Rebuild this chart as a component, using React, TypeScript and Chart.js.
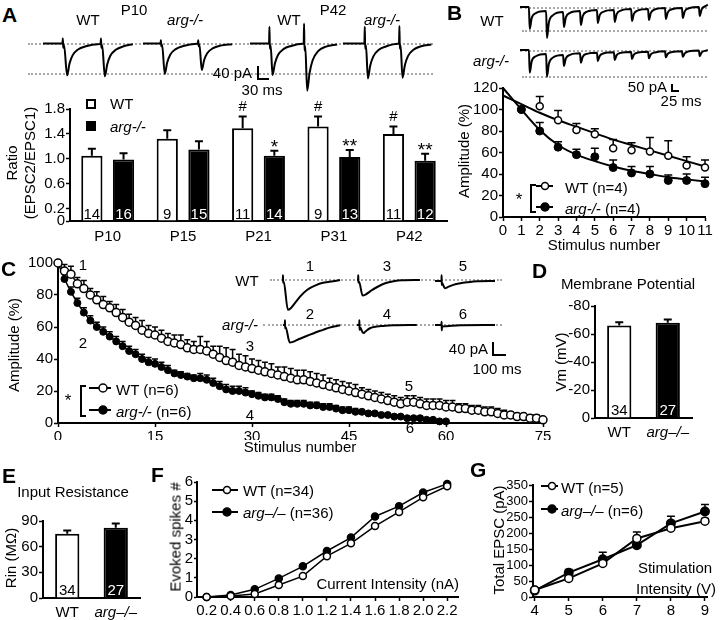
import React, { useEffect, useRef } from "react";
import { Chart, registerables } from "chart.js";
Chart.register(...registerables);

const FONT = "'Liberation Sans', Arial, Helvetica, sans-serif";
Chart.defaults.font.family = FONT;
Chart.defaults.color = "#000";

// ---------------- DATA ----------------
// Panel A: paired-pulse ratio
const ageGroups = ["P10", "P15", "P21", "P31", "P42"];
const ratioWT = [1.05, 1.32, 1.49, 1.52, 1.4];
const ratioWTErr = [0.11, 0.14, 0.19, 0.16, 0.12];
const ratioKO = [0.99, 1.15, 1.05, 1.03, 0.97];
const ratioKOErr = [0.1, 0.13, 0.08, 0.11, 0.11];
const ratioWTn = [14, 9, 11, 9, 11];
const ratioKOn = [16, 15, 14, 13, 12];
const ratioWTMarks = ["", "", "#", "#", "#"];
const ratioKOMarks = ["", "", "*", "**", "**"];
const ratioTicks = [0, 0.2, 0.6, 1.0, 1.4, 1.8];

// Panel A traces: [ms, pA]
const traceA_WT10 = [[0,0],[50,0],[51,14],[52,-12],[54,-4],[62,-91],[68,-58],[76,-34],[90,-17],[110,-8],[140,-2],[148,-1],[149,14],[150,-12],[152,-4],[159,-94],[165,-60],[173,-35],[187,-18],[207,-8],[231,-2]];
const traceA_KO10 = [[0,0],[45,0],[46,9],[47,-8],[49,-3],[56,-87],[62,-55],[70,-32],[84,-16],[104,-7],[138,-1],[141,0],[142,9],[143,-8],[145,-3],[151,-76],[157,-48],[165,-28],[179,-14],[199,-6],[229,-2]];
const traceA_WT42 = [[0,0],[49,0],[50,48],[51,-15],[53,-5],[58,-90],[64,-57],[72,-33],[86,-16],[106,-7],[135,-1],[138,0],[139,57],[140,-20],[142,-8],[147,-135],[153,-85],[161,-48],[175,-22],[195,-9],[224,-3]];
const traceA_KO42 = [[0,0],[55,0],[56,48],[57,-15],[59,-5],[64,-100],[70,-63],[78,-37],[92,-18],[112,-8],[141,-1],[144,0],[145,50],[146,-15],[148,-5],[153,-98],[159,-62],[167,-36],[181,-18],[201,-8],[227,-3]];

// Panel B
const bTicks = [0, 1, 2, 3, 4, 5, 6, 7, 8, 9, 10, 11];
const bStim = [1, 2, 3, 4, 5, 6, 7, 8, 9, 10, 11];
const bWT = [100, 103, 90, 81, 77, 64, 62, 61, 57, 48, 46];
const bWTErr = [0, 9, 9, 6, 5, 8, 7, 13, 14, 8, 7];
const bKO = [100, 80, 65, 58, 56, 46, 41, 40, 34, 34, 31];
const bKOErr = [0, 8, 5, 5, 8, 7, 6, 7, 5, 6, 6];
const bFitX = [0, 1, 2, 3, 4, 5, 6, 7, 8, 9, 10, 11];
const bWTFit = [113, 105, 97, 90, 84, 78, 72, 67, 62, 57, 52, 47];
const bKOFit = [120, 100, 81, 67, 58, 52, 47, 43, 40, 37, 35, 33];
const bYTicks = [0, 20, 40, 60, 80, 100, 120];
const traceB_WT = [[0,0],[32,0],[35,-154],[42,-78],[57,-43],[94,-28],[97,-217],[104,-108],[119,-57],[155,-35],[158,-140],[165,-73],[180,-41],[216,-28],[219,-126],[226,-63],[241,-33],[277,-21],[280,-112],[287,-57],[302,-32],[338,-21],[341,-105],[348,-50],[363,-25],[400,-14],[403,-98],[410,-48],[425,-24],[461,-14],[464,-91],[471,-41],[486,-17],[522,-7],[525,-84],[532,-38],[547,-16],[583,-7],[586,-77],[593,-31],[608,-9],[644,0],[647,-63],[654,-17],[669,8],[676,16]];
const traceB_KO = [[0,0],[32,0],[35,-159],[42,-80],[57,-44],[94,-28],[97,-187],[104,-96],[119,-53],[155,-35],[158,-112],[165,-59],[180,-34],[216,-23],[219,-89],[226,-47],[241,-27],[277,-19],[280,-77],[287,-41],[302,-23],[338,-16],[341,-70],[348,-36],[363,-20],[400,-14],[403,-63],[410,-33],[425,-18],[461,-12],[464,-58],[471,-30],[486,-17],[522,-9],[525,-51],[532,-26],[547,-14],[583,-9],[586,-47],[593,-24],[608,-9],[644,-4],[647,-42],[654,-17],[669,-4],[676,0]];

// Panel C (stimulus index = array index)
const cWT = [100,95,93,87,84,80,77,74,72,69,66,63,61,58,56,55,53,51,50,49,47,46,46,45,43,41,39,38,36,35,34,33,32,31,30,29,28,27,27,26,25,24,23,22,21,20,19,18,17,16,15,14,13,12,13,13,12,11,11,11,10,10,9,9,8,8,7,7,6,5,5,4,4,3,3,2];
const cWTErr = [0,4,5,4,5,4,5,5,4,5,5,5,5,6,5,5,5,5,5,6,5,5,8,6,5,7,8,8,7,7,6,6,6,6,5,6,6,6,6,6,6,6,5,5,5,5,5,4,4,4,4,4,4,4,4,4,4,4,4,4,4,4,3,3,3,3,3,3,3,3,2,2,2,2,2,1];
const cKO = [100,90,82,75,69,64,60,57,54,51,48,45,43,40,38,37,35,33,31,30,29,28,28,27,25,23,21,20,20,19,18,17,16,16,15,13,12,12,12,11,11,10,10,9,8,8,7,7,6,6,5,5,4,4,3,3,3,2,2,1,1];
const cKOErr = [0,3,3,3,3,3,3,3,3,3,3,3,3,3,3,3,3,3,2,2,2,2,3,3,3,3,3,3,3,3,2,2,2,2,2,2,2,2,2,2,2,2,2,2,2,2,2,1,1,1,1,1,1,1,1,1,1,1,1,1,1];
const cXTicks = [0, 15, 30, 45, 60, 75];
const cYTicks = [0, 20, 40, 60, 80, 100];
const traceC1 = [[0,0],[6,0],[7,15],[8,-8],[12,-5],[42,-92],[60,-88],[90,-72],[128,-51],[180,-30],[246,-15],[300,-8],[362,-4],[412,0]];
const traceC3 = [[0,0],[8,0],[9,15],[10,-8],[14,-5],[40,-48],[60,-45],[100,-33],[150,-20],[200,-10],[260,-4],[320,-1],[447,0]];
const traceC5 = [[0,0],[46,0],[47,18],[48,-12],[50,-6],[70,-22],[90,-19],[130,-12],[180,-7],[230,-4],[300,-1],[426,0]];
const traceC2 = [[0,0],[13,0],[14,15],[15,-10],[18,-6],[48,-54],[70,-52],[110,-44],[168,-34],[230,-23],[284,-15],[330,-8],[381,-3],[405,-1]];
const traceC4 = [[0,0],[16,0],[17,15],[18,-15],[22,-8],[44,-25],[60,-20],[92,-10],[140,-5],[185,-3],[260,-1],[424,0]];
const traceC6 = [[0,0],[46,0],[47,10],[48,-16],[50,-5],[70,-4],[120,-2],[200,-1],[426,0]];

// Panel D
const genotypes = ["WT", "arg\u2013/\u2013"];
const vm = [-66, -68];
const vmErr = [2.4, 2.3];
const vmN = [34, 27];
const vmTicks = [-80, -60, -40, -20, 0];

// Panel E
const rin = [75, 82];
const rinErr = [4, 5];
const rinN = [34, 27];
const rinTicks = [0, 30, 60, 90];

// Panel F
const fCurrent = [0.2, 0.4, 0.6, 0.8, 1.0, 1.2, 1.4, 1.6, 1.8, 2.0, 2.2];
const fWT = [0, 0.05, 0.16, 0.63, 1.09, 2.13, 2.8, 3.7, 4.44, 5.2, 5.78];
const fKO = [0, 0.1, 0.4, 0.97, 1.6, 2.4, 3.1, 4.2, 4.74, 5.45, 5.9];
const fYTicks = [0, 1, 2, 3, 4, 5, 6];

// Panel G
const gVolt = [4, 5, 6, 7, 8, 9];
const gWT = [22, 58, 105, 183, 215, 237];
const gWTErr = [3, 5, 6, 20, 8, 8];
const gKO = [20, 76, 118, 162, 230, 267];
const gKOErr = [5, 10, 22, 6, 22, 22];
const gYTicks = [0, 50, 100, 150, 200, 250, 300, 350];

// ---------------- HELPERS ----------------
type Box = { l: number; t: number; r: number; b: number };

const errorBars = {
  id: "errorBars",
  beforeDatasetsDraw(chart: any) {
    const ctx = chart.ctx;
    chart.data.datasets.forEach((ds: any, di: number) => {
      if (!ds.errors) return;
      const meta = chart.getDatasetMeta(di);
      const ys = chart.scales[meta.yAxisID];
      ctx.save();
      ctx.strokeStyle = "#000";
      ctx.lineWidth = ds.errWidth || 1.5;
      meta.data.forEach((el: any, i: number) => {
        const e = ds.errors[i];
        if (!e) return;
        const raw = ds.data[i];
        const v = typeof raw === "number" ? raw : raw.y;
        const tip = v + (v < 0 ? -e : e);
        const y1 = ys.getPixelForValue(tip);
        const cap = ds.capHalf || 3.5;
        ctx.beginPath();
        ctx.moveTo(el.x, el.y);
        ctx.lineTo(el.x, y1);
        ctx.moveTo(el.x - cap, y1);
        ctx.lineTo(el.x + cap, y1);
        ctx.stroke();
      });
      ctx.restore();
    });
  },
};

const barText = {
  id: "barText",
  afterDatasetsDraw(chart: any) {
    const ctx = chart.ctx;
    chart.data.datasets.forEach((ds: any, di: number) => {
      const meta = chart.getDatasetMeta(di);
      const ys = chart.scales[meta.yAxisID];
      meta.data.forEach((el: any, i: number) => {
        ctx.save();
        ctx.textAlign = "center";
        if (ds.counts) {
          ctx.fillStyle = ds.countColor;
          ctx.font = `15px ${FONT}`;
          ctx.textBaseline = "alphabetic";
          ctx.fillText(String(ds.counts[i]), el.x, el.base - 2);
        }
        if (ds.marks && ds.marks[i]) {
          const v = ds.data[i];
          const tip = v + (ds.errors ? ds.errors[i] : 0);
          const isHash = ds.marks[i].includes("#");
          ctx.fillStyle = "#000";
          ctx.font = `${isHash ? 15 : 19}px ${FONT}`;
          ctx.textBaseline = "alphabetic";
          ctx.fillText(ds.marks[i], el.x, ys.getPixelForValue(tip) - (isHash ? 5 : -2));
        }
        ctx.restore();
      });
    });
  },
};

function countPlugin(counts: number[]) {
  return {
    id: "counts",
    afterDatasetsDraw(chart: any) {
      const ctx = chart.ctx;
      const meta = chart.getDatasetMeta(0);
      meta.data.forEach((el: any, i: number) => {
        ctx.save();
        ctx.fillStyle = i === 0 ? "#000" : "#fff";
        ctx.font = `15px ${FONT}`;
        ctx.textAlign = "center";
        ctx.fillText(String(counts[i]), el.x, el.base - 3);
        ctx.restore();
      });
    },
  };
}

function baseOpts(canvas: Box, plot: Box) {
  return {
    responsive: false,
    animation: false,
    devicePixelRatio: 1,
    events: [],
    layout: {
      autoPadding: false,
      padding: { left: 0, top: plot.t - canvas.t, right: canvas.r - plot.r, bottom: 0 },
    },
    plugins: { legend: { display: false }, tooltip: { enabled: false }, title: { display: false } },
  };
}

const AXB = { display: true, color: "#000", width: 2 };

function linAxis(kind: "x" | "y", canvas: Box, plot: Box, min: number, max: number, ticks: number[], fmt?: (v: number) => string, extra: any = {}, tickFont: any = { size: 15 }) {
  return {
    type: "linear",
    min,
    max,
    afterBuildTicks: (s: any) => {
      s.ticks = ticks.map((v) => ({ value: v }));
    },
    afterFit: (s: any) => {
      if (kind === "y") s.width = plot.l - canvas.l;
      else s.height = canvas.b - plot.b;
    },
    grid: { drawOnChartArea: false, drawTicks: true, tickLength: 4, tickColor: "#000", tickWidth: 1.5 },
    border: AXB,
    ticks: {
      autoSkip: false,
      maxRotation: 0,
      padding: 1,
      color: "#000",
      font: tickFont,
      callback: fmt || ((v: number) => String(v)),
    },
    ...extra,
  };
}

function catAxis(canvas: Box, plot: Box, italicIdx = -1, padding = 7) {
  return {
    type: "category",
    afterFit: (s: any) => {
      s.height = canvas.b - plot.b;
    },
    grid: { drawOnChartArea: false, drawTicks: false },
    border: AXB,
    ticks: {
      padding,
      color: "#000",
      autoSkip: false,
      maxRotation: 0,
      font: (ctx: any) => ({ size: 15, style: ctx.index === italicIdx ? "italic" : "normal", family: FONT }),
    },
  };
}

function ChartCanvas({ box, make }: { box: Box; make: () => any }) {
  const ref = useRef<HTMLCanvasElement>(null);
  useEffect(() => {
    const c = new Chart(ref.current as HTMLCanvasElement, make());
    return () => c.destroy();
  }, []);
  const w = box.r - box.l;
  const h = box.b - box.t;
  return (
    <canvas
      ref={ref}
      width={w}
      height={h}
      style={{ position: "absolute", left: box.l, top: box.t, width: w, height: h }}
    />
  );
}

function Trace({ pts, x0, y0, msPx, pAPx, box, lw = 2 }: any) {
  const make = () => ({
    type: "line",
    data: {
      datasets: [
        {
          data: pts.map(([t, v]: number[]) => ({ x: t, y: v })),
          borderColor: "#000",
          borderWidth: lw,
          pointRadius: 0,
          cubicInterpolationMode: "monotone",
          fill: false,
          clip: false,
        },
      ],
    },
    options: {
      responsive: false,
      animation: false,
      devicePixelRatio: 1,
      events: [],
      layout: { autoPadding: false, padding: 0 },
      plugins: { legend: { display: false }, tooltip: { enabled: false } },
      scales: {
        x: { type: "linear", display: false, min: (box.l - x0) * msPx, max: (box.r - x0) * msPx },
        y: { type: "linear", display: false, min: -(box.b - y0) * pAPx, max: (y0 - box.t) * pAPx },
      },
    },
  });
  return <ChartCanvas box={box} make={make} />;
}

function Txt({ x, y, s = 15, a = "c", b = false, i = false, rot = false, color = "#000", children }: any) {
  const tx = a === "l" ? "0" : a === "r" ? "-100%" : "-50%";
  return (
    <div
      style={{
        position: "absolute",
        left: x,
        top: y,
        transform: `translate(${tx},-50%)${rot ? " rotate(-90deg)" : ""}`,
        fontSize: s,
        fontWeight: b ? "bold" : "normal",
        fontStyle: i ? "italic" : "normal",
        whiteSpace: "nowrap",
        lineHeight: 1,
        color,
        zIndex: 2,
      }}
    >
      {children}
    </div>
  );
}

function Dots({ x1, x2, y }: any) {
  return <div style={{ position: "absolute", left: x1, top: y - 1, width: x2 - x1, borderTop: "2px dotted #a8a8a8" }} />;
}

function ScaleBar({ x, y, w, h }: any) {
  return (
    <>
      <div style={{ position: "absolute", left: x, top: y, width: 2, height: h, background: "#000" }} />
      <div style={{ position: "absolute", left: x, top: y + h - 2, width: w, height: 2, background: "#000" }} />
    </>
  );
}

function Marker({ x, y, w, filled, r = 4, cx }: any) {
  return (
    <svg style={{ position: "absolute", left: x, top: y - 6 }} width={w} height={12}>
      <line x1={0} y1={6} x2={w} y2={6} stroke="#000" strokeWidth={2} />
      <circle cx={cx ?? w * 0.6} cy={6} r={r} fill={filled ? "#000" : "#fff"} stroke="#000" strokeWidth={1.5} />
    </svg>
  );
}

function Bracket({ x, y1, y2 }: any) {
  return (
    <div
      style={{
        position: "absolute",
        left: x,
        top: y1,
        width: 4,
        height: y2 - y1,
        borderLeft: "2px solid #000",
        borderTop: "2px solid #000",
        borderBottom: "2px solid #000",
      }}
    />
  );
}

// ---------------- LAYOUT BOXES ----------------
const boxA: Box = { l: 36, t: 95, r: 452, b: 250 };
const plotA: Box = { l: 70, t: 109, r: 447, b: 221 };
const boxB: Box = { l: 470, t: 78, r: 715, b: 240 };
const plotB: Box = { l: 503, t: 85, r: 705, b: 217 };
const boxC: Box = { l: 20, t: 250, r: 560, b: 440 };
const plotC: Box = { l: 58, t: 263, r: 543, b: 423 };
const boxD: Box = { l: 565, t: 295, r: 700, b: 445 };
const plotD: Box = { l: 595, t: 306, r: 692, b: 418 };
const boxE: Box = { l: 12, t: 510, r: 150, b: 620 };
const plotE: Box = { l: 43, t: 521, r: 140, b: 598 };
const boxF: Box = { l: 178, t: 470, r: 465, b: 620 };
const plotF: Box = { l: 197, t: 482, r: 458, b: 597 };
const boxG: Box = { l: 503, t: 475, r: 715, b: 620 };
const plotG: Box = { l: 533, t: 485, r: 707, b: 597 };

// ---------------- CHART CONFIGS ----------------
const makeA = () => ({
  type: "bar",
  data: {
    labels: ageGroups,
    datasets: [
      { data: ratioWT, backgroundColor: "#fff", borderColor: "#000", borderWidth: 2, barPercentage: 0.67, categoryPercentage: 0.84, errors: ratioWTErr, capHalf: 4, errWidth: 2, counts: ratioWTn, countColor: "#000", marks: ratioWTMarks },
      { data: ratioKO, backgroundColor: "#000", borderColor: "#000", borderWidth: 2, barPercentage: 0.67, categoryPercentage: 0.84, errors: ratioKOErr, capHalf: 4, errWidth: 2, counts: ratioKOn, countColor: "#fff", marks: ratioKOMarks },
    ],
  },
  options: {
    ...baseOpts(boxA, plotA),
    scales: {
      x: catAxis(boxA, plotA, -1, 7),
      y: linAxis("y", boxA, plotA, 0, 1.8, ratioTicks, (v) => (v === 0 ? "0" : v.toFixed(1))),
    },
  },
  plugins: [errorBars, barText],
});

const makeB = () => ({
  type: "line",
  data: {
    datasets: [
      { data: bStim.map((s, i) => ({ x: s, y: bKO[i] })), showLine: false, pointRadius: 4, pointBackgroundColor: "#000", pointBorderColor: "#000", pointBorderWidth: 1, errors: bKOErr, capHalf: 4, clip: false },
      { data: bStim.map((s, i) => ({ x: s, y: bWT[i] })), showLine: false, pointRadius: 3.5, pointBackgroundColor: "#fff", pointBorderColor: "#000", pointBorderWidth: 1.5, errors: bWTErr, capHalf: 4, clip: false },
      { data: bFitX.map((s, i) => ({ x: s, y: bWTFit[i] })), borderColor: "#000", borderWidth: 2, pointRadius: 0, cubicInterpolationMode: "monotone", clip: false },
      { data: bFitX.map((s, i) => ({ x: s, y: bKOFit[i] })), borderColor: "#000", borderWidth: 2, pointRadius: 0, cubicInterpolationMode: "monotone", clip: false },
    ],
  },
  options: {
    ...baseOpts(boxB, plotB),
    scales: {
      x: linAxis("x", boxB, plotB, 0, 11, bTicks),
      y: linAxis("y", boxB, plotB, 0, 120, bYTicks),
    },
  },
  plugins: [errorBars],
});

const makeC = () => ({
  type: "line",
  data: {
    datasets: [
      { data: cWT.map((v, i) => ({ x: i, y: v })), borderColor: "#000", borderWidth: 1.5, pointRadius: 4, pointBackgroundColor: "#fff", pointBorderColor: "#000", pointBorderWidth: 1.5, errors: cWTErr, capHalf: 3, clip: false },
      { data: cKO.map((v, i) => ({ x: i, y: v })), borderColor: "#000", borderWidth: 1.5, pointRadius: 3.5, pointBackgroundColor: "#000", pointBorderColor: "#000", pointBorderWidth: 1, errors: cKOErr, capHalf: 3, clip: false },
    ],
  },
  options: {
    ...baseOpts(boxC, plotC),
    scales: {
      x: linAxis("x", boxC, plotC, 0, 75, cXTicks),
      y: linAxis("y", boxC, plotC, 0, 100, cYTicks),
    },
  },
  plugins: [errorBars],
});

const makeD = () => ({
  type: "bar",
  data: {
    labels: genotypes,
    datasets: [
      { data: vm, backgroundColor: ["#fff", "#000"], borderColor: "#000", borderWidth: 2, barPercentage: 0.5, categoryPercentage: 1, errors: vmErr, capHalf: 4, errWidth: 2 },
    ],
  },
  options: {
    ...baseOpts(boxD, plotD),
    scales: {
      x: catAxis(boxD, plotD, 1, 6),
      y: linAxis("y", boxD, plotD, -80, 0, vmTicks, undefined, { reverse: true }),
    },
  },
  plugins: [errorBars, countPlugin(vmN)],
});

const makeE = () => ({
  type: "bar",
  data: {
    labels: genotypes,
    datasets: [
      { data: rin, backgroundColor: ["#fff", "#000"], borderColor: "#000", borderWidth: 2, barPercentage: 0.5, categoryPercentage: 1, errors: rinErr, capHalf: 4, errWidth: 2 },
    ],
  },
  options: {
    ...baseOpts(boxE, plotE),
    scales: {
      x: catAxis(boxE, plotE, 1, 6),
      y: linAxis("y", boxE, plotE, 0, 90, rinTicks),
    },
  },
  plugins: [errorBars, countPlugin(rinN)],
});

const makeF = () => ({
  type: "line",
  data: {
    datasets: [
      { data: fCurrent.map((c, i) => ({ x: c, y: fWT[i] })), borderColor: "#000", borderWidth: 1.5, pointRadius: 3.5, pointBackgroundColor: "#fff", pointBorderColor: "#000", pointBorderWidth: 1.5, clip: false },
      { data: fCurrent.map((c, i) => ({ x: c, y: fKO[i] })), borderColor: "#000", borderWidth: 1.5, pointRadius: 3.5, pointBackgroundColor: "#000", pointBorderColor: "#000", clip: false },
    ],
  },
  options: {
    ...baseOpts(boxF, plotF),
    scales: {
      x: linAxis("x", boxF, plotF, 0.12, 2.29, fCurrent, (v) => v.toFixed(1)),
      y: linAxis("y", boxF, plotF, 0, 6, fYTicks, undefined, { grid: { drawOnChartArea: false, drawTicks: true, tickLength: 3, tickColor: "#000", tickWidth: 1.5 } }),
    },
  },
});

const makeG = () => ({
  type: "line",
  data: {
    datasets: [
      { data: gVolt.map((c, i) => ({ x: c, y: gWT[i] })), borderColor: "#000", borderWidth: 2, pointRadius: 4, pointBackgroundColor: "#fff", pointBorderColor: "#000", pointBorderWidth: 1.5, errors: gWTErr, capHalf: 4, clip: false },
      { data: gVolt.map((c, i) => ({ x: c, y: gKO[i] })), borderColor: "#000", borderWidth: 2, pointRadius: 4, pointBackgroundColor: "#000", pointBorderColor: "#000", errors: gKOErr, capHalf: 4, clip: false },
    ],
  },
  options: {
    ...baseOpts(boxG, plotG),
    scales: {
      x: linAxis("x", boxG, plotG, 3.95, 9.06, gVolt),
      y: linAxis("y", boxG, plotG, 0, 350, gYTicks, undefined, {}, { size: 13 }),
    },
  },
  plugins: [errorBars],
});

// ---------------- APP ----------------
function It({ children }: any) {
  return <span style={{ fontStyle: "italic" }}>{children}</span>;
}

export default function App() {
  return (
    <div
      style={{
        position: "absolute",
        left: 0,
        top: 0,
        width: 720,
        height: 620,
        background: "#fff",
        overflow: "hidden",
        fontFamily: FONT,
        color: "#000",
      }}
    >
      {/* ---------- Panel A ---------- */}
      <Txt x={2} y={14} s={21} b a="l">A</Txt>
      <Txt x={88} y={19}>WT</Txt>
      <Txt x={134} y={9}>P10</Txt>
      <Txt x={185} y={19} i>arg-/-</Txt>
      <Txt x={289} y={19}>WT</Txt>
      <Txt x={333} y={9}>P42</Txt>
      <Txt x={382} y={19} i>arg-/-</Txt>
      <Dots x1={28} x2={433} y={44} />
      <Dots x1={28} x2={433} y={74} />
      <Trace pts={traceA_WT10} x0={43} y0={43.5} msPx={2.57} pAPx={2.86} box={{ l: 40, t: 18, r: 138, b: 100 }} />
      <Trace pts={traceA_KO10} x0={143} y0={43.5} msPx={2.57} pAPx={2.86} box={{ l: 140, t: 18, r: 236, b: 100 }} />
      <Trace pts={traceA_WT42} x0={250} y0={43.5} msPx={2.57} pAPx={2.86} box={{ l: 246, t: 18, r: 342, b: 100 }} />
      <Trace pts={traceA_KO42} x0={343} y0={43.5} msPx={2.57} pAPx={2.86} box={{ l: 340, t: 18, r: 436, b: 100 }} />
      <ScaleBar x={257} y={66} w={12} h={14} />
      <Txt x={252} y={72} a="r">40 pA</Txt>
      <Txt x={262} y={89}>30 ms</Txt>

      <ChartCanvas box={boxA} make={makeA} />
      <div style={{ position: "absolute", left: 86, top: 99, width: 6, height: 6, border: "2px solid #000", background: "#fff" }} />
      <Txt x={110} y={103} a="l">WT</Txt>
      <div style={{ position: "absolute", left: 86, top: 121, width: 10, height: 10, background: "#000" }} />
      <Txt x={110} y={126} a="l" i>arg-/-</Txt>
      <Txt x={10.5} y={163} rot>Ratio</Txt>
      <Txt x={28.5} y={163} rot>(EPSC2/EPSC1)</Txt>

      {/* ---------- Panel B ---------- */}
      <Txt x={447} y={12} s={21} b a="l">B</Txt>
      <Txt x={492} y={20}>WT</Txt>
      <Txt x={491} y={60} i>arg-/-</Txt>
      <Dots x1={520} x2={707} y={8} />
      <Dots x1={522} x2={707} y={31} />
      <Dots x1={520} x2={707} y={51} />
      <Dots x1={522} x2={707} y={77} />
      <Trace pts={traceB_WT} x0={520} y0={7} msPx={3.6} pAPx={7} box={{ l: 515, t: 0, r: 712, b: 44 }} />
      <Trace pts={traceB_KO} x0={520} y0={50} msPx={3.6} pAPx={7} box={{ l: 515, t: 40, r: 712, b: 84 }} />
      <ScaleBar x={671} y={84} w={8} h={8} />
      <Txt x={667} y={86} a="r">50 pA</Txt>
      <Txt x={681} y={100}>25 ms</Txt>

      <ChartCanvas box={boxB} make={makeB} />
      <Txt x={462.5} y={151} rot>Amplitude (%)</Txt>
      <Txt x={604} y={244}>Stimulus number</Txt>
      <Txt x={519} y={199} s={17}>*</Txt>
      <Bracket x={530} y1={184} y2={209} />
      <Marker x={536} y={186} w={17} filled={false} r={3.5} cx={9} />
      <Txt x={565} y={187} a="l">WT (n=4)</Txt>
      <Marker x={536} y={207} w={17} filled r={4} cx={9} />
      <Txt x={565} y={208} a="l"><It>arg-/-</It> (n=4)</Txt>

      {/* ---------- Panel C ---------- */}
      <Txt x={1} y={268} s={21} b a="l">C</Txt>
      <ChartCanvas box={boxC} make={makeC} />
      <Txt x={12.5} y={345} rot>Amplitude (%)</Txt>
      <Txt x={300} y={446}>Stimulus number</Txt>
      <Txt x={83} y={264}>1</Txt>
      <Txt x={83} y={342}>2</Txt>
      <Txt x={250} y={345}>3</Txt>
      <Txt x={250} y={414}>4</Txt>
      <Txt x={409} y={385}>5</Txt>
      <Txt x={410} y={427}>6</Txt>
      <Txt x={68} y={400} s={17}>*</Txt>
      <Bracket x={80} y1={385} y2={413} />
      <Marker x={89} y={388} w={22} filled={false} r={4} cx={14} />
      <Txt x={116} y={389} a="l">WT (n=6)</Txt>
      <Marker x={89} y={410} w={22} filled r={4} cx={14} />
      <Txt x={116} y={411} a="l"><It>arg-/-</It> (n=6)</Txt>

      <Txt x={247} y={280}>WT</Txt>
      <Txt x={240} y={324} i>arg-/-</Txt>
      <Txt x={310} y={265}>1</Txt>
      <Txt x={387} y={265}>3</Txt>
      <Txt x={463} y={265}>5</Txt>
      <Txt x={310} y={313}>2</Txt>
      <Txt x={387} y={313}>4</Txt>
      <Txt x={463} y={313}>6</Txt>
      <Dots x1={270} x2={502} y={280} />
      <Dots x1={263} x2={502} y={325} />
      <Trace pts={traceC1} x0={282} y0={280} msPx={7.1} pAPx={3.08} box={{ l: 278, t: 266, r: 345, b: 318 }} />
      <Trace pts={traceC3} x0={357} y0={280} msPx={7.1} pAPx={3.08} box={{ l: 353, t: 266, r: 425, b: 318 }} />
      <Trace pts={traceC5} x0={435} y0={281} msPx={7.1} pAPx={3.08} box={{ l: 431, t: 266, r: 500, b: 318 }} />
      <Trace pts={traceC2} x0={283} y0={325} msPx={7.1} pAPx={3.08} box={{ l: 279, t: 312, r: 345, b: 356 }} />
      <Trace pts={traceC4} x0={357} y0={325} msPx={7.1} pAPx={3.08} box={{ l: 353, t: 312, r: 425, b: 356 }} />
      <Trace pts={traceC6} x0={435} y0={325} msPx={7.1} pAPx={3.08} box={{ l: 431, t: 312, r: 500, b: 356 }} />
      <ScaleBar x={492} y={342} w={14} h={14} />
      <Txt x={488} y={348} a="r">40 pA</Txt>
      <Txt x={497} y={368}>100 ms</Txt>

      {/* ---------- Panel D ---------- */}
      <Txt x={532} y={270} s={21} b a="l">D</Txt>
      <Txt x={628} y={283}>Membrane Potential</Txt>
      <ChartCanvas box={boxD} make={makeD} />
      <Txt x={559.5} y={362} rot>Vm (mV)</Txt>

      {/* ---------- Panel E ---------- */}
      <Txt x={2} y={475} s={21} b a="l">E</Txt>
      <Txt x={73} y={491}>Input Resistance</Txt>
      <ChartCanvas box={boxE} make={makeE} />
      <Txt x={9.5} y={558} rot>Rin (MΩ)</Txt>

      {/* ---------- Panel F ---------- */}
      <Txt x={151} y={474} s={21} b a="l">F</Txt>
      <ChartCanvas box={boxF} make={makeF} />
      <Txt x={174.5} y={537} rot>Evoked spikes #</Txt>
      <Marker x={212} y={490} w={26} filled={false} r={3.5} cx={15} />
      <Txt x={243} y={490} a="l">WT (n=34)</Txt>
      <Marker x={212} y={512} w={26} filled r={4} cx={15} />
      <Txt x={243} y={512} a="l"><It>arg–/–</It> (n=36)</Txt>
      <Txt x={459} y={583} a="r">Current Intensity (nA)</Txt>

      {/* ---------- Panel G ---------- */}
      <Txt x={470} y={469} s={21} b a="l">G</Txt>
      <ChartCanvas box={boxG} make={makeG} />
      <Txt x={497.5} y={540} rot>Total EPSC (pA)</Txt>
      <Marker x={541} y={486} w={17} filled={false} r={3.5} cx={11} />
      <Txt x={561} y={487} a="l">WT (n=5)</Txt>
      <Marker x={541} y={509} w={17} filled r={4} cx={11} />
      <Txt x={561} y={510} a="l"><It>arg–/–</It> (n=6)</Txt>
      <Txt x={675} y={567}>Stimulation</Txt>
      <Txt x={676} y={588}>Intensity (V)</Txt>
    </div>
  );
}
